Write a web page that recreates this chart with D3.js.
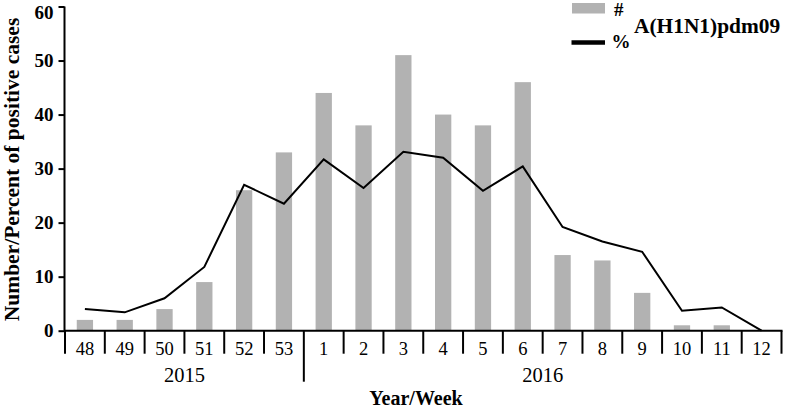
<!DOCTYPE html>
<html><head><meta charset="utf-8">
<script src="https://cdn.jsdelivr.net/npm/d3@7"></script>
<style>body{margin:0;background:#fff}svg text{font-family:"Liberation Serif","Times New Roman",serif}</style>
</head><body><svg id="c" width="785" height="409"></svg>
<script>
const weeks = ["48","49","50","51","52","53","1","2","3","4","5","6","7","8","9","10","11","12"];
const years = [{label:"2015", from:"48", to:"53"},{label:"2016", from:"1", to:"12"}];
const counts = [2,2,4,9,26,33,44,38,51,40,38,46,14,13,7,1,1,0];
const percents = [4.0,3.4,6.0,11.8,27.0,23.5,31.7,26.4,33.1,32.0,25.9,30.4,19.2,16.5,14.6,3.7,4.3,0];
const yTicks = [0,10,20,30,40,50,60];

const svg = d3.select("#c");
const x = d3.scaleBand().domain(weeks).range([65,781.5]).paddingInner(0).paddingOuter(0);
const y = d3.scaleLinear().domain([0,60]).range([330.7,6.5]);
const bw = 16.3;

// bars
svg.selectAll("rect.bar").data(weeks).enter().append("rect")
  .attr("x", d=>x(d)+x.bandwidth()/2-bw/2)
  .attr("width", bw)
  .attr("y", (d,i)=>y(counts[i]))
  .attr("height", (d,i)=>y(0)-y(counts[i]))
  .attr("fill","#b2b2b2");

// line
const line = d3.line().x((d,i)=>x(weeks[i])+x.bandwidth()/2).y(d=>y(d));
svg.append("path").datum(percents).attr("d",line).attr("fill","none").attr("stroke","#000").attr("stroke-width",2);

// y axis
const ya = svg.append("g").attr("transform","translate(64.5,0)")
  .call(d3.axisLeft(y).tickValues(yTicks).tickSize(6).tickPadding(5).tickFormat(d3.format("d")));
ya.select(".domain").attr("stroke","#000").attr("stroke-width",2).attr("d",`M0,${y(60)}V${y(0)}`);
ya.selectAll(".tick line").attr("stroke-width",2);
ya.selectAll(".tick text").attr("font-size",19).attr("font-weight","bold").attr("fill","#000")
  .attr("font-family","Liberation Serif")
  .attr("dy", d => d === 60 ? "0.62em" : "0.32em");

// x axis
const xa = svg.append("g").attr("transform",`translate(0,${y(0)})`);
xa.append("line").attr("x1",64).attr("x2",782.5).attr("y1",0).attr("y2",0).attr("stroke","#000").attr("stroke-width",2);
const bounds = weeks.map(w=>x(w)).concat([x(weeks[weeks.length-1])+x.bandwidth()]);
xa.selectAll("line.tk").data(bounds).enter().append("line")
  .attr("x1",d=>d).attr("x2",d=>d).attr("y1",0)
  .attr("y2",(d,i)=> (i===weeks.indexOf("1")) ? 51 : 23)
  .attr("stroke","#000").attr("stroke-width",2);
xa.selectAll("text.wk").data(weeks).enter().append("text")
  .attr("x",d=>x(d)+x.bandwidth()/2).attr("y",24.5)
  .attr("text-anchor","middle").attr("font-size",18.5).attr("fill","#000").text(d=>d);
xa.selectAll("text.yr").data(years).enter().append("text")
  .attr("x",d=>(x(d.from)+x(d.to)+x.bandwidth())/2).attr("y",51)
  .attr("text-anchor","middle").attr("font-size",20.5).attr("fill","#000").text(d=>d.label);

// axis titles
svg.append("text").attr("x",416).attr("y",405).attr("text-anchor","middle")
  .attr("font-size",20).attr("font-weight","bold").text("Year/Week");
svg.append("text").attr("transform","translate(19,169.5) rotate(-90)").attr("text-anchor","middle")
  .attr("font-size",21.5).attr("font-weight","bold").text("Number/Percent of positive cases");

// legend
svg.append("rect").attr("x",572).attr("y",3).attr("width",33).attr("height",10.5).attr("fill","#b2b2b2");
svg.append("text").attr("x",614).attr("y",15.5).attr("font-size",19).attr("font-weight","bold").text("#");
svg.append("line").attr("x1",571.5).attr("x2",605).attr("y1",42.5).attr("y2",42.5).attr("stroke","#000").attr("stroke-width",4.5);
svg.append("text").attr("x",611.5).attr("y",48).attr("font-size",19).attr("font-weight","bold").text("%");
svg.append("text").attr("x",634).attr("y",33).attr("font-size",21.4).attr("font-weight","bold").text("A(H1N1)pdm09");
</script></body></html>
